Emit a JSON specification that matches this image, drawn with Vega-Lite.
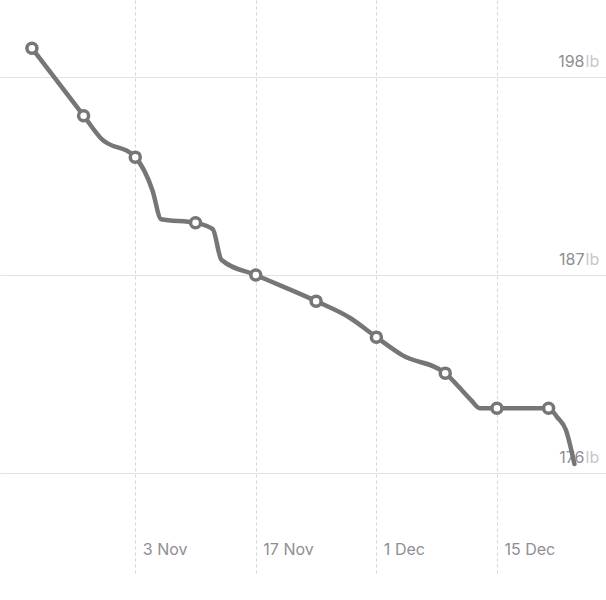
{
  "$schema": "https://vega.github.io/schema/vega-lite/v6.json",
  "width": 606,
  "height": 576,
  "padding": 0,
  "autosize": {"type": "none"},
  "background": "white",
  "config": {"view": {"stroke": null}, "font": "Inter"},
  "data": {
    "values": [
      {"date": "2023-10-22", "weight": 199.6, "m": true},
      {"date": "2023-10-28", "weight": 195.85, "m": true},
      {"date": "2023-10-30", "weight": 194.6, "m": false},
      {"date": "2023-11-03", "weight": 193.55, "m": true},
      {"date": "2023-11-05", "weight": 191.7, "m": false},
      {"date": "2023-11-06", "weight": 190.1, "m": false},
      {"date": "2023-11-10", "weight": 189.9, "m": true},
      {"date": "2023-11-12", "weight": 189.55, "m": false},
      {"date": "2023-11-13", "weight": 187.85, "m": false},
      {"date": "2023-11-17", "weight": 187.0, "m": true},
      {"date": "2023-11-24", "weight": 185.55, "m": true},
      {"date": "2023-11-28", "weight": 184.6, "m": false},
      {"date": "2023-12-01", "weight": 183.55, "m": true},
      {"date": "2023-12-04", "weight": 182.55, "m": false},
      {"date": "2023-12-09", "weight": 181.55, "m": true},
      {"date": "2023-12-12", "weight": 180.05, "m": false},
      {"date": "2023-12-13", "weight": 179.6, "m": false},
      {"date": "2023-12-15", "weight": 179.6, "m": true},
      {"date": "2023-12-21", "weight": 179.6, "m": true},
      {"date": "2023-12-22", "weight": 179.1, "m": false},
      {"date": "2023-12-23", "weight": 178.4, "m": false},
      {"date": "2023-12-24", "weight": 176.5, "m": false}
    ]
  },
  "encoding": {
    "x": {
      "field": "date",
      "type": "temporal",
      "scale": {
        "type": "utc",
        "domain": [
          {"year": 2023, "month": 10, "date": 18, "hours": 7, "utc": true},
          {"year": 2023, "month": 12, "date": 27, "hours": 16, "utc": true}
        ]
      },
      "axis": {
        "orient": "bottom",
        "title": null,
        "values": [
          {"year": 2023, "month": 11, "date": 3, "utc": true},
          {"year": 2023, "month": 11, "date": 17, "utc": true},
          {"year": 2023, "month": 12, "date": 1, "utc": true},
          {"year": 2023, "month": 12, "date": 15, "utc": true}
        ],
        "format": "%-d %b",
        "grid": true,
        "gridDash": [3, 3],
        "gridColor": "#d6d6d6",
        "gridWidth": 1,
        "domain": false,
        "ticks": false,
        "tickSize": 0,
        "labelAlign": "left",
        "labelBaseline": "middle",
        "labelOffset": 7,
        "labelPadding": -26.5,
        "labelFlush": false,
        "labelColor": "#8e8e93",
        "labelFontSize": 16,
        "labelFont": "Inter"
      }
    }
  },
  "layer": [
    {
      "mark": {"type": "line", "interpolate": "monotone", "color": "#767676", "strokeWidth": 4.5, "strokeCap": "round", "strokeJoin": "round"},
      "encoding": {
        "y": {
          "field": "weight",
          "type": "quantitative",
          "scale": {"domain": [170.28, 202.28], "zero": false, "nice": false},
          "axis": {
            "orient": "right",
            "title": null,
            "values": [176, 187, 198],
            "grid": true,
            "gridColor": "#e2e2e2",
            "gridWidth": 1.2,
            "domain": false,
            "ticks": false,
            "tickSize": 0,
            "labelAlign": "right",
            "labelBaseline": "alphabetic",
            "labelOffset": -11,
            "labelPadding": -22,
            "labelFlush": false,
            "labelColor": "#8e8e93",
            "labelFontSize": 16,
            "labelFont": "Inter"
          }
        }
      }
    },
    {
      "transform": [{"filter": "datum.m"}],
      "mark": {"type": "point", "shape": "circle", "filled": true, "fill": "white", "stroke": "#767676", "strokeWidth": 3.5, "size": 100, "opacity": 1},
      "encoding": {
        "y": {
          "field": "weight",
          "type": "quantitative",
          "scale": {"domain": [170.28, 202.28], "zero": false, "nice": false},
          "axis": {
            "orient": "right",
            "title": null,
            "values": [176, 187, 198],
            "labelExpr": "'lb'",
            "grid": false,
            "domain": false,
            "ticks": false,
            "tickSize": 0,
            "labelAlign": "left",
            "labelBaseline": "alphabetic",
            "labelOffset": -11,
            "labelPadding": -21,
            "labelFlush": false,
            "labelColor": "#c7c7cc",
            "labelFontSize": 16,
            "labelFont": "Inter"
          }
        }
      }
    }
  ],
  "resolve": {"axis": {"y": "independent"}}
}
